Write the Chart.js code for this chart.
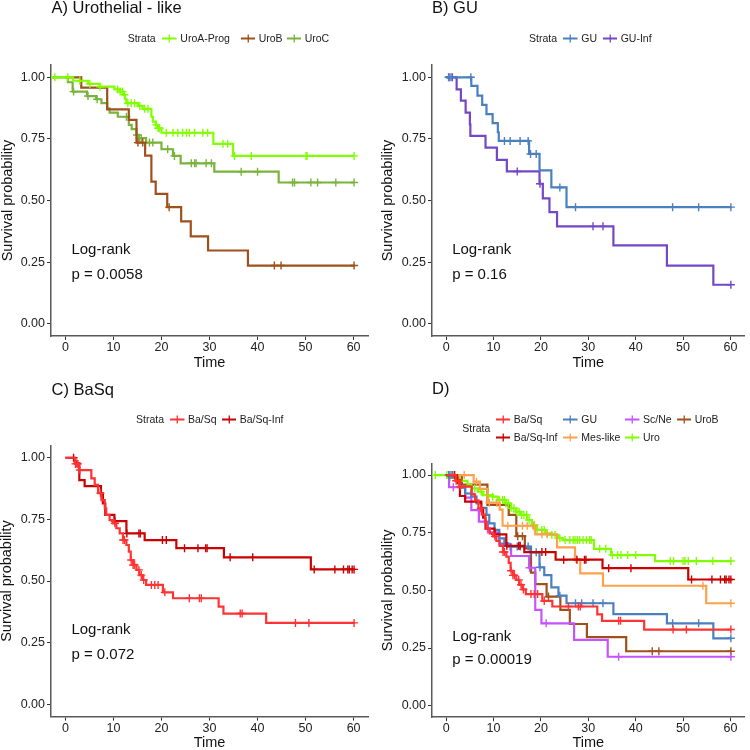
<!DOCTYPE html>
<html>
<head>
<meta charset="utf-8">
<script src="https://cdn.jsdelivr.net/npm/chart.js@4.4.1/dist/chart.umd.min.js"></script>
<style>
  body { margin: 0; background: #fff; font-family: "Liberation Sans", Arial, sans-serif; color: #222; }
  #page { position: relative; width: 750px; height: 750px; overflow: hidden; }
  .panel { position: absolute; width: 375px; height: 375px; }
  .panel canvas { position: absolute; left: 0; top: 0; }
  .ttl { position: absolute; font-size: 16.5px; line-height: 1; white-space: nowrap; color: #111; }
  .lg { position: absolute; height: 12px; font-size: 10.5px; line-height: 1; white-space: nowrap;
        display: flex; align-items: center; color: #222; }
  .lg svg { margin-right: 3.5px; }
</style>
</head>
<body>
<div id="page">
  <div class="panel" id="pA" style="left:0;top:0">
    <canvas id="cA" width="375" height="375"></canvas>
    <div class="ttl" style="left:51.5px;top:-0.8px">A) Urothelial - like</div>
  </div>
  <div class="panel" id="pB" style="left:375px;top:0">
    <canvas id="cB" width="375" height="375"></canvas>
    <div class="ttl" style="left:57px;top:-0.8px">B) GU</div>
  </div>
  <div class="panel" id="pC" style="left:0;top:375px">
    <canvas id="cC" width="375" height="375"></canvas>
    <div class="ttl" style="left:51.5px;top:5.8px">C) BaSq</div>
  </div>
  <div class="panel" id="pD" style="left:375px;top:375px">
    <canvas id="cD" width="375" height="375"></canvas>
    <div class="ttl" style="left:57px;top:4.8px">D)</div>
  </div>
</div>
<script>
const timeTicks = [0, 10, 20, 30, 40, 50, 60];
const survTicks = [0, 0.25, 0.5, 0.75, 1];
const endTime = 60.2;

// A) Urothelial-like
const uroATimes = [-2.8, 1.6, 4.7, 7.1, 10.2, 11.3, 12.0, 12.4, 12.7, 15.1, 16.1, 17.9, 18.2, 18.8, 19.3, 20.0, 30.8, 34.9];
const uroASurv  = [1, 0.986, 0.973, 0.962, 0.951, 0.942, 0.929, 0.912, 0.895, 0.884, 0.872, 0.840, 0.820, 0.807, 0.793, 0.775, 0.730, 0.681];
const uroACens  = [-2.2, 0.5, 3.0, 5.1, 7.2, 10.9, 11.4, 11.9, 12.3, 13.0, 13.7, 14.4, 15.5, 16.5, 17.2, 18.9, 19.3, 19.6, 21.0, 22.4, 23.4, 24.4, 25.2, 25.8, 26.9, 28.6, 29.6, 32.8, 33.8, 35.2, 38.7, 50.1, 50.3, 60.1];

const uroBTimes = [0, 3.3, 8.7, 13.2, 14.8, 16.6, 17.9, 18.8, 21.2, 24.1, 26.1, 29.7, 38.0];
const uroBSurv  = [1, 0.958, 0.870, 0.827, 0.735, 0.682, 0.577, 0.527, 0.473, 0.415, 0.354, 0.297, 0.236];
const uroBCens  = [15.1, 16.1, 21.6, 43.5, 44.9, 60.1];

const uroCTimes = [-2.8, 0.5, 1.5, 4.5, 6.4, 7.5, 8.7, 9.2, 10.9, 13.2, 13.8, 14.8, 15.3, 16.8, 20.0, 22.4, 24.0, 31.0, 44.4];
const uroCSurv  = [1, 0.98, 0.942, 0.924, 0.911, 0.895, 0.874, 0.857, 0.840, 0.807, 0.79, 0.766, 0.753, 0.735, 0.708, 0.681, 0.651, 0.617, 0.573];
const uroCCens  = [1.7, 4.7, 6.6, 12.7, 14.9, 15.4, 15.8, 17.5, 18.2, 21.3, 22.7, 26.2, 26.9, 27.2, 29.3, 30.4, 36.6, 40.0, 47.3, 47.7, 51.1, 52.5, 56.3, 60.1];

// B) GU
const guTimes = [0, 5.3, 6.6, 7.6, 8.5, 9.8, 10.9, 11.1, 17.5, 19.7, 22.2, 25.4];
const guSurv  = [1, 0.965, 0.926, 0.888, 0.851, 0.814, 0.777, 0.742, 0.689, 0.622, 0.553, 0.473];
const guCens  = [0.5, 1.0, 5.2, 12.3, 13.5, 15.6, 17.3, 17.8, 19.0, 24.0, 27.3, 47.8, 53.3, 60.1];

const guInfTimes = [0, 2.2, 3.1, 4.1, 5.0, 5.1, 8.3, 10.7, 12.8, 19.7, 20.4, 21.8, 23.4, 35.3, 46.6, 56.4];
const guInfSurv  = [1, 0.951, 0.905, 0.857, 0.809, 0.762, 0.715, 0.665, 0.618, 0.568, 0.509, 0.453, 0.395, 0.318, 0.236, 0.158];
const guInfCens  = [0.6, 1.3, 15.0, 19.8, 31.0, 33.1, 60.1];

// C) BaSq
const baSqTimes = [0, 2.0, 2.8, 5.4, 6.1, 6.8, 7.5, 8.2, 8.5, 9.2, 9.9, 10.6, 11.3, 12.0, 12.7, 13.2, 13.6, 14.1, 14.8, 15.4, 16.1, 16.8, 20.3, 22.4, 31.9, 32.9, 41.8];
const baSqSurv  = [1, 0.975, 0.95, 0.916, 0.89, 0.856, 0.828, 0.795, 0.768, 0.747, 0.734, 0.714, 0.693, 0.666, 0.646, 0.619, 0.585, 0.565, 0.545, 0.524, 0.504, 0.484, 0.454, 0.43, 0.396, 0.368, 0.33];
const baSqCens  = [2.1, 2.6, 3.0, 7.3, 10.3, 12.0, 12.3, 13.7, 14.1, 14.4, 15.3, 15.8, 16.3, 17.9, 18.6, 19.3, 20.7, 25.8, 27.9, 28.3, 36.4, 36.8, 47.9, 50.7, 60.1];

const baSqInfTimes = [0, 2.0, 2.9, 4.0, 7.4, 7.8, 8.3, 10.2, 12.7, 16.5, 23.1, 33.0, 51.1];
const baSqInfSurv  = [1, 0.977, 0.909, 0.885, 0.856, 0.815, 0.768, 0.743, 0.693, 0.666, 0.633, 0.596, 0.547];
const baSqInfCens  = [1.7, 2.4, 10.3, 12.8, 15.3, 15.6, 20.2, 21.0, 24.8, 27.6, 29.2, 29.5, 34.3, 39.0, 51.8, 56.1, 57.9, 58.8, 59.1, 59.7, 60.1];

// D) all subtypes
const guAllTimes = [0, 2.2, 2.9, 4.0, 5.3, 6.4, 7.4, 8.5, 9.1, 10.2, 11.2, 12.3, 13.0, 17.8, 19.7, 20.7, 22.2, 23.7, 25.4, 35.3, 46.6, 56.4];
const guAllSurv  = [1, 0.97, 0.945, 0.92, 0.906, 0.877, 0.858, 0.827, 0.79, 0.762, 0.725, 0.704, 0.69, 0.665, 0.60, 0.566, 0.513, 0.477, 0.444, 0.397, 0.357, 0.292];
const guAllCens  = [0.5, 0.6, 1.0, 1.3, 5.2, 12.3, 13.5, 15.0, 15.6, 17.3, 17.8, 19.0, 19.8, 24.0, 27.3, 28.6, 31.0, 33.1, 47.8, 53.3, 60.1];

const mesTimes = [0, 5.8, 7.1, 8.7, 11.3, 11.9, 18.8, 23.4, 27.2, 28.3, 33.1, 54.9];
const mesSurv  = [1, 0.971, 0.94, 0.88, 0.85, 0.78, 0.743, 0.686, 0.636, 0.574, 0.52, 0.444];
const mesCens  = [1.9, 3.8, 6.4, 9.1, 10.7, 13.0, 16.1, 17.1, 18.4, 20.2, 21.3, 27.4, 54.2, 60.1];

const scNeTimes = [0, 0.6, 4.0, 5.3, 6.9, 8.8, 11.2, 13.7, 17.5, 18.8, 20.1, 27.0, 34.1];
const scNeSurv  = [1, 0.947, 0.902, 0.848, 0.798, 0.751, 0.699, 0.649, 0.598, 0.415, 0.357, 0.285, 0.212];
const scNeCens  = [1.5, 17.6, 21.1, 36.4, 60.1];

const uroTimes = [-2.3, 0.2, 2.9, 4.5, 5.3, 6.7, 7.8, 9.8, 10.9, 12.6, 13.7, 14.7, 15.7, 17.1, 18.1, 19.2, 20.9, 22.3, 23.7, 24.7, 31.2, 34.8, 44.1];
const uroSurv  = [1, 0.99, 0.975, 0.96, 0.942, 0.928, 0.913, 0.906, 0.892, 0.877, 0.856, 0.841, 0.827, 0.805, 0.783, 0.762, 0.747, 0.740, 0.726, 0.718, 0.68, 0.653, 0.627];
const uroCens  = [-2.3, 0.1, 0.8, 2.9, 6.0, 7.4, 8.8, 9.8, 11.2, 11.9, 12.3, 12.6, 13.1, 13.7, 14.3, 14.9, 15.4, 15.9, 16.4, 17.0, 17.5, 18.2, 18.6, 19.2, 20.2, 20.7, 21.3, 22.3, 23.0, 24.0, 25.1, 26.1, 26.8, 27.2, 27.7, 28.2, 28.9, 29.6, 30.3, 30.6, 32.4, 33.7, 35.1, 36.2, 36.9, 38.3, 40.0, 47.3, 48.0, 50.0, 50.4, 51.1, 52.8, 56.3, 60.1];

const colors = {
  'UroA-Prog': '#80ff00', 'UroB': '#a0501a', 'UroC': '#78b43c',
  'GU': '#4a7fc0', 'GU-Inf': '#7447c6',
  'Ba/Sq': '#ff3333', 'Ba/Sq-Inf': '#cc0000',
  'Mes-like': '#ffa04c', 'Sc/Ne': '#c653ff', 'Uro': '#80ff00'
};

const FONT = "'Liberation Sans', Arial, sans-serif";

function kmPoints(times, surv) {
  const pts = times.map((t, i) => ({ x: t, y: surv[i] }));
  pts.push({ x: endTime, y: surv[surv.length - 1] });
  return pts;
}

function survAt(times, surv, t) {
  let s = surv[0];
  for (let i = 0; i < times.length; i++) {
    if (times[i] <= t) s = surv[i];
  }
  return s;
}

const pvalPlugin = {
  id: 'pval',
  afterDatasetsDraw(chart, args, opts) {
    const { ctx, scales: { x, y } } = chart;
    ctx.save();
    ctx.font = '15px ' + FONT;
    ctx.fillStyle = '#111';
    ctx.textAlign = 'left';
    ctx.textBaseline = 'middle';
    ctx.fillText('Log-rank', x.getPixelForValue(1.25), y.getPixelForValue(0.3));
    ctx.fillText(opts.text, x.getPixelForValue(1.25), y.getPixelForValue(0.2));
    ctx.restore();
  }
};

function drawPanel(canvasId, strata, lay, pText) {
  const datasets = [];
  strata.forEach(s => {
    const c = colors[s.name];
    datasets.push({
      label: s.name, data: kmPoints(s.times, s.surv), stepped: true,
      borderColor: c, borderWidth: 2.2, pointRadius: 0, fill: false
    });
    datasets.push({
      label: s.name + ' (censored)',
      data: s.cens.map(t => ({ x: t, y: survAt(s.times, s.surv, t) })),
      showLine: false, pointStyle: 'cross', pointRadius: 4,
      borderColor: c, backgroundColor: c, pointBorderWidth: 1.4
    });
  });

  new Chart(document.getElementById(canvasId), {
    type: 'line',
    data: { datasets },
    plugins: [pvalPlugin],
    options: {
      responsive: false,
      animation: false,
      layout: { padding: { top: lay.top, right: lay.right, left: 0, bottom: 0 } },
      plugins: {
        legend: { display: false },
        tooltip: { enabled: false },
        pval: { text: pText }
      },
      scales: {
        x: {
          type: 'linear', min: -3, max: 63,
          afterBuildTicks: s => { s.ticks = timeTicks.map(v => ({ value: v })); },
          afterFit: s => { s.height = lay.xh; },
          ticks: { color: '#222', font: { size: 12.5, family: FONT }, padding: 0, maxRotation: 0, autoSkip: false },
          grid: { drawOnChartArea: false, drawTicks: true, tickLength: 4, color: '#333' },
          border: { color: '#5a5a5a', width: 1.5 },
          title: { display: true, text: 'Time', color: '#111',
                   font: { size: 14.5, family: FONT, lineHeight: 1 }, padding: { top: 0, bottom: lay.xt } }
        },
        y: {
          type: 'linear', min: -0.05, max: 1.05,
          afterBuildTicks: s => { s.ticks = survTicks.map(v => ({ value: v })); },
          afterFit: s => { s.width = lay.yw; },
          ticks: { color: '#222', font: { size: 12.5, family: FONT }, padding: 2, autoSkip: false,
                   callback: v => v.toFixed(2) },
          grid: { drawOnChartArea: false, drawTicks: true, tickLength: 4, color: '#333' },
          border: { color: '#5a5a5a', width: 1.5 },
          title: { display: true, text: 'Survival probability', color: '#111',
                   font: { size: 14.5, family: FONT, lineHeight: 1 }, padding: { top: lay.yt, bottom: 0 } }
        }
      }
    }
  });
}

function symbol(c) {
  return '<svg width="14.5" height="9" viewBox="0 0 14.5 9">' +
    '<line x1="0" y1="4.5" x2="14.5" y2="4.5" stroke="' + c + '" stroke-width="2"/>' +
    '<line x1="7.25" y1="0.5" x2="7.25" y2="8.5" stroke="' + c + '" stroke-width="1.3"/></svg>';
}

function addLegend(panelId, strataPos, items) {
  const p = document.getElementById(panelId);
  const head = document.createElement('div');
  head.className = 'lg';
  head.style.left = strataPos[0] + 'px';
  head.style.top = (strataPos[1] - 6) + 'px';
  head.textContent = 'Strata';
  p.appendChild(head);
  items.forEach(it => {
    const d = document.createElement('div');
    d.className = 'lg';
    d.style.left = it[1] + 'px';
    d.style.top = (it[2] - 6) + 'px';
    d.innerHTML = symbol(colors[it[0]]) + '<span>' + it[0] + '</span>';
    p.appendChild(d);
  });
}

drawPanel('cA', [
  { name: 'UroA-Prog', times: uroATimes, surv: uroASurv, cens: uroACens },
  { name: 'UroB', times: uroBTimes, surv: uroBSurv, cens: uroBCens },
  { name: 'UroC', times: uroCTimes, surv: uroCSurv, cens: uroCCens }
], { top: 65, right: 7, yw: 51, xh: 39, yt: 1, xt: 4.5 }, 'p = 0.0058');

drawPanel('cB', [
  { name: 'GU', times: guTimes, surv: guSurv, cens: guCens },
  { name: 'GU-Inf', times: guInfTimes, surv: guInfSurv, cens: guInfCens }
], { top: 65, right: 1, yw: 57, xh: 39, yt: 5.5, xt: 4.5 }, 'p = 0.16');

drawPanel('cC', [
  { name: 'Ba/Sq', times: baSqTimes, surv: baSqSurv, cens: baSqCens },
  { name: 'Ba/Sq-Inf', times: baSqInfTimes, surv: baSqInfSurv, cens: baSqInfCens }
], { top: 70.4, right: 7, yw: 51, xh: 33.4, yt: 0, xt: 0 }, 'p = 0.072');

drawPanel('cD', [
  { name: 'Ba/Sq', times: baSqTimes, surv: baSqSurv, cens: baSqCens },
  { name: 'Ba/Sq-Inf', times: baSqInfTimes, surv: baSqInfSurv, cens: baSqInfCens },
  { name: 'GU', times: guAllTimes, surv: guAllSurv, cens: guAllCens },
  { name: 'Mes-like', times: mesTimes, surv: mesSurv, cens: mesCens },
  { name: 'Sc/Ne', times: scNeTimes, surv: scNeSurv, cens: scNeCens },
  { name: 'Uro', times: uroTimes, surv: uroSurv, cens: uroCens },
  { name: 'UroB', times: uroBTimes, surv: uroBSurv, cens: uroBCens }
], { top: 88.5, right: 1, yw: 57, xh: 32.8, yt: 5.5, xt: 0 }, 'p = 0.00019');

addLegend('pA', [127.7, 38.3], [['UroA-Prog', 162.3, 38.3], ['UroB', 240.7, 38.3], ['UroC', 286.7, 38.3]]);
addLegend('pB', [154, 38.3], [['GU', 188.3, 38.3], ['GU-Inf', 227.7, 38.3]]);
addLegend('pC', [136, 44], [['Ba/Sq', 170, 44], ['Ba/Sq-Inf', 221.7, 44]]);
addLegend('pD', [87.3, 53.3], [
  ['Ba/Sq', 120.7, 44], ['GU', 188.3, 44], ['Sc/Ne', 250, 44], ['UroB', 301.7, 44],
  ['Ba/Sq-Inf', 120.7, 62.3], ['Mes-like', 188.3, 62.3], ['Uro', 250, 62.3]
]);
</script>
</body>
</html>
